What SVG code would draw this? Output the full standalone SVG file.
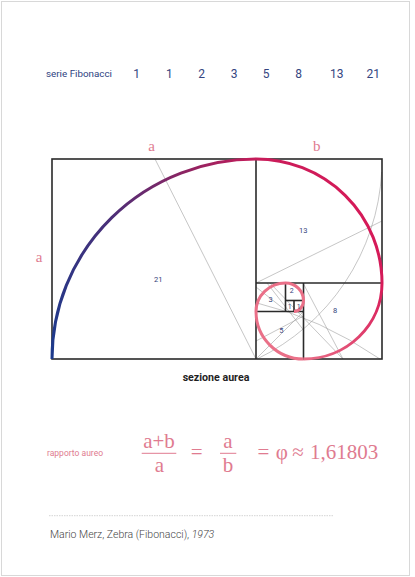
<svg xmlns="http://www.w3.org/2000/svg" width="415" height="577" viewBox="0 0 415 577">
<defs>
<linearGradient id="gBig" gradientUnits="userSpaceOnUse" x1="52" y1="359" x2="382" y2="220">
<stop offset="0" stop-color="#1c3a8c"/>
<stop offset="0.3" stop-color="#4a2f78"/>
<stop offset="0.55" stop-color="#8e2462"/>
<stop offset="0.75" stop-color="#c81c5a"/>
<stop offset="1" stop-color="#d81a58"/>
</linearGradient>
<linearGradient id="g8" gradientUnits="userSpaceOnUse" x1="382" y1="283" x2="303" y2="359">
<stop offset="0" stop-color="#d81a58"/>
<stop offset="1" stop-color="#e86c86"/>
</linearGradient>
<style>
.sq{fill:none;stroke:#2a2a2a;stroke-width:1.6}
.thin{fill:none;stroke:#a0a0a0;stroke-width:0.6}
.num{font-family:Roboto,"Liberation Sans",sans-serif;fill:#34427a;text-anchor:middle}
.fib{font-family:Roboto,"Liberation Sans",sans-serif;fill:#34457f;font-size:12px;font-weight:400;text-anchor:middle}
.lbl{font-family:"Liberation Serif",serif;fill:#e07b90;font-size:15px;text-anchor:middle}
.f{font-family:"Liberation Serif",serif;fill:#e07b90;text-anchor:middle}
</style>
</defs>
<rect x="0" y="0" width="415" height="577" fill="#ffffff"/>
<rect x="1.5" y="1.5" width="408" height="574" fill="none" stroke="#d8d8d8" stroke-width="1"/>

<g id="fibonacci-series">
<text x="46" y="77" font-family="Roboto,'Liberation Sans',sans-serif" font-size="9.5" fill="#2e3f7f" textLength="66" lengthAdjust="spacingAndGlyphs">serie Fibonacci</text>
<text class="fib" x="136.7" y="78">1</text>
<text class="fib" x="169.3" y="78">1</text>
<text class="fib" x="201.7" y="78">2</text>
<text class="fib" x="234" y="78">3</text>
<text class="fib" x="266" y="78">5</text>
<text class="fib" x="298.7" y="78">8</text>
<text class="fib" x="336.7" y="78">13</text>
<text class="fib" x="373.3" y="78">21</text>
</g>

<g id="connectors">
<line class="thin" x1="155" y1="159" x2="256" y2="359"/>
<line class="thin" x1="256" y1="283" x2="382" y2="221"/>
<path class="thin" d="M381.7,172 A221,221 0 0 1 257,359"/>
<line class="thin" x1="303" y1="283" x2="343" y2="359"/>
<path class="thin" d="M257,303 Q320,318 380,359"/>
<line class="thin" x1="256" y1="359" x2="303.5" y2="311.5"/>
<line class="thin" x1="256" y1="341" x2="303.5" y2="316"/>
<line class="thin" x1="256" y1="287" x2="287" y2="311.5"/>
<line class="thin" x1="267" y1="283" x2="303.5" y2="330"/>
<line class="thin" x1="270" y1="283" x2="343" y2="359"/>
</g>

<g id="golden-rectangle">
<rect class="sq" x="52" y="159" width="330" height="200"/>
<line class="sq" x1="256" y1="159" x2="256" y2="359"/>
<line class="sq" x1="256" y1="283" x2="382" y2="283"/>
<line class="sq" x1="303.5" y1="283" x2="303.5" y2="359"/>
<line class="sq" x1="256" y1="311.5" x2="303.5" y2="311.5"/>
<line class="sq" x1="285.5" y1="283" x2="285.5" y2="311.5"/>
<line class="sq" x1="285.5" y1="300.5" x2="303.5" y2="300.5"/>
<line class="sq" x1="294" y1="300.5" x2="294" y2="311.5"/>
</g>

<g id="spiral">
<path d="M52,359 A204,200 0 0 1 256,159 A126,124 0 0 1 382,283" fill="none" stroke="url(#gBig)" stroke-width="3"/>
<path d="M382,283 A78.5,76 0 0 1 303.5,359" fill="none" stroke="url(#g8)" stroke-width="3"/>
<path d="M303.5,359 A47.5,47.5 0 0 1 256,311.5 A29.5,28.5 0 0 1 285.5,283 A18,17.5 0 0 1 303.5,300.5 A9.5,11 0 0 1 294,311.5" fill="none" stroke="#ea7088" stroke-width="3"/>
</g>

<g id="square-labels">
<text class="num" x="158.3" y="282" font-size="7.5">21</text>
<text class="num" x="303.3" y="233" font-size="7.5">13</text>
<text class="num" x="335" y="313" font-size="7.5">8</text>
<text class="num" x="281.3" y="332.5" font-size="7.5">5</text>
<text class="num" x="270.7" y="301.5" font-size="7.5">3</text>
<text class="num" x="291.7" y="293.3" font-size="7">2</text>
<text class="num" x="289.7" y="309" font-size="7">1</text>
<text class="num" x="298.7" y="309" font-size="7">1</text>
</g>

<g id="side-labels">
<text class="lbl" x="151.7" y="151">a</text>
<text class="lbl" x="316.7" y="151">b</text>
<text class="lbl" x="39" y="262">a</text>
</g>

<text x="216" y="381" font-family="Roboto,'Liberation Sans',sans-serif" font-size="10" font-weight="700" fill="#1e1e1e" text-anchor="middle" textLength="66.7" lengthAdjust="spacingAndGlyphs">sezione aurea</text>

<g id="golden-ratio">
<text x="47" y="456" font-family="Roboto,'Liberation Sans',sans-serif" font-size="9" fill="#e07b90" textLength="56" lengthAdjust="spacingAndGlyphs">rapporto aureo</text>
<text class="f" x="159" y="447.5" font-size="21">a+b</text>
<line x1="141.7" y1="453.3" x2="176.3" y2="453.3" stroke="#e07b90" stroke-width="1"/>
<text class="f" x="159.3" y="471.5" font-size="21">a</text>
<text class="f" x="196.7" y="459" font-size="21">=</text>
<text class="f" x="228" y="447.5" font-size="21">a</text>
<line x1="220" y1="453.3" x2="236.3" y2="453.3" stroke="#e07b90" stroke-width="1"/>
<text class="f" x="228" y="471.5" font-size="21">b</text>
<text class="f" x="263.3" y="459" font-size="21">=</text>
<text class="f" x="281.7" y="459" font-size="21">φ</text>
<text class="f" x="298" y="459" font-size="21">≈</text>
<text x="310" y="459" font-family="'Liberation Serif',serif" font-size="21" fill="#e07b90">1,61803</text>
</g>

<g id="caption">
<line x1="49" y1="515.7" x2="333" y2="515.7" stroke="#c8c8c8" stroke-width="0.8" stroke-dasharray="1.5,1"/>
<text x="50" y="537.5" font-family="Roboto,'Liberation Sans',sans-serif" font-size="10.5" font-weight="300" fill="#444">Mario Merz, Zebra (Fibonacci), <tspan font-style="italic">1973</tspan></text>
</g>
</svg>
